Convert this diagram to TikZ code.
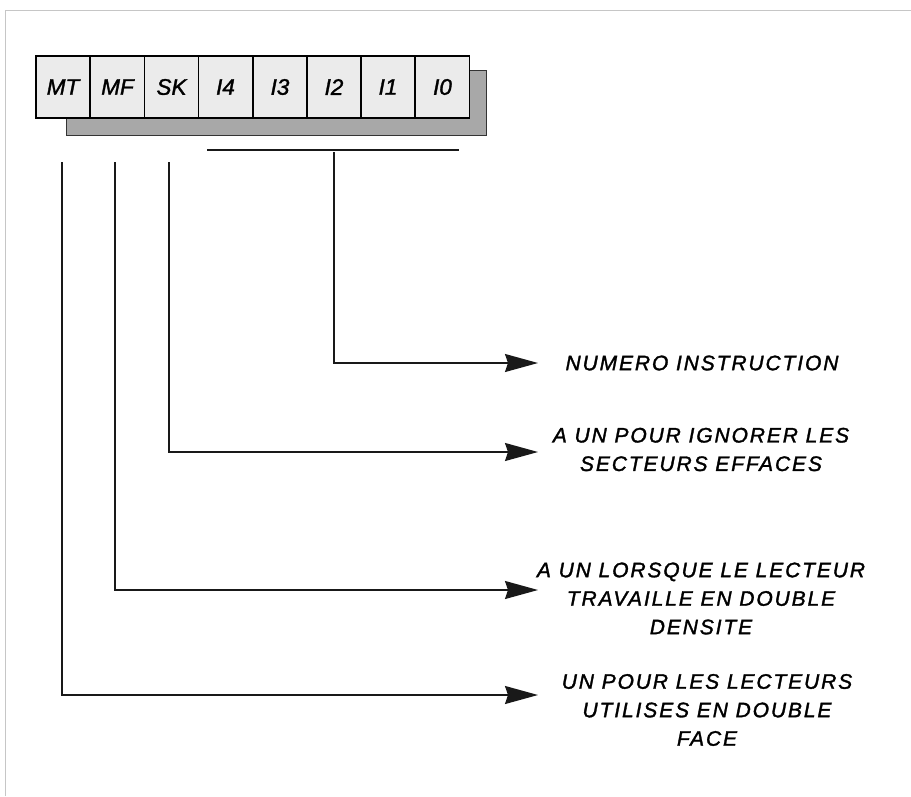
\documentclass[tikz,border=0pt]{standalone}
\usepackage{fontspec}
\usetikzlibrary{arrows.meta}
\newfontfamily\lblfont[LetterSpace=9,FakeBold=1.5]{Liberation Sans}
\newfontfamily\cellfont[FakeBold=1.5]{Liberation Sans}
\begin{document}
\begin{tikzpicture}[x=1pt,y=-1pt,
  cell/.style={draw=black,line width=1.2pt,fill=gray!16,minimum width=54pt,minimum height=62pt,inner sep=0pt,
    font=\cellfont\itshape\fontsize{22.5}{24}\selectfont},
  conn/.style={line width=1.5pt,draw=black!90},
  arr/.style={conn,-{Stealth[length=33pt,width=18pt,inset=3pt]}},
  lbl/.style={align=center,inner sep=0pt,font=\lblfont\itshape\fontsize{21}{28.5}\selectfont}]
\useasboundingbox (0,0) rectangle (911,796);
% frame
\draw[gray!45,line width=1pt] (5,796) -- (5,10) -- (911,10);
% shadow
\path[fill=gray!68,draw=black!80,line width=1pt] (66,70) rectangle (486,135);
% cells
\node[cell] (mt) at (63,87) {MT};
\node[cell] (mf) at (117.5,87) {MF};
\node[cell] (sk) at (171.5,87) {SK};
\node[cell] (i4) at (225.5,87) {I4};
\node[cell] (i3) at (280,87) {I3};
\node[cell] (i2) at (334,87) {I2};
\node[cell] (i1) at (388,87) {I1};
\node[cell] (i0) at (442.5,87) {I0};
% bracket line under I4..I0
\coordinate (ba) at (207,150);
\coordinate (bb) at (459,150);
\draw[conn] (ba) -- (bb);
% connector start/end points
\coordinate (s2) at (334,152);
\coordinate (ssk) at (169,162);
\coordinate (smf) at (115,162);
\coordinate (smt) at (62,162);
\coordinate (e2) at (538,363);
\coordinate (esk) at (538,452);
\coordinate (emf) at (538,590);
\coordinate (emt) at (538,695);
% labels
\node[lbl] (t2) at (702,363) {NUMERO INSTRUCTION};
\node[lbl] (tsk) at (701,449.5) {A UN POUR IGNORER LES\\SECTEURS EFFACES};
\node[lbl] (tmf) at (701,598.5) {A UN LORSQUE LE LECTEUR\\TRAVAILLE EN DOUBLE\\DENSITE};
\node[lbl] (tmt) at (707,710) {UN POUR LES LECTEURS\\UTILISES EN DOUBLE\\FACE};
% connectors
\draw[arr] (s2) |- (e2);
\draw[arr] (ssk) |- (esk);
\draw[arr] (smf) |- (emf);
\draw[arr] (smt) |- (emt);
\end{tikzpicture}
\end{document}
